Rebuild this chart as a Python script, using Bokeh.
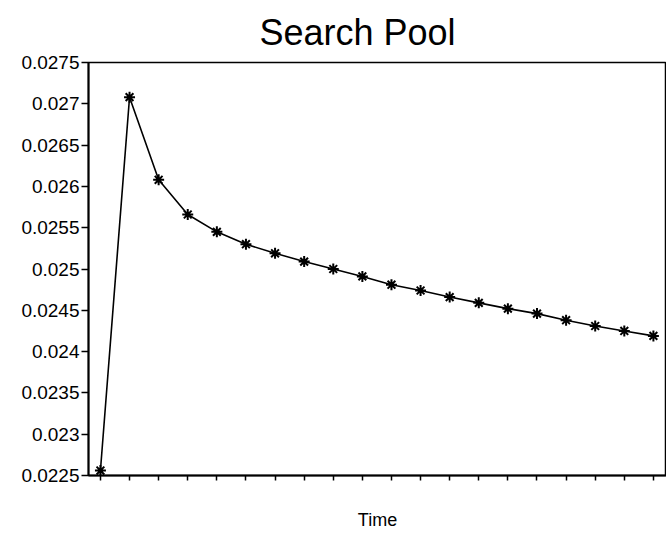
from bokeh.plotting import figure
from bokeh.models import Range1d, FixedTicker, CustomJSTickFormatter
from bokeh.embed import file_html
from bokeh.resources import INLINE

time_idx = list(range(20))
pool = [0.02256, 0.02708, 0.02608, 0.02566, 0.02545, 0.02530, 0.02519, 0.02509,
        0.02500, 0.02491, 0.02481, 0.02474, 0.02466, 0.02459, 0.02452, 0.02446,
        0.02438, 0.02431, 0.02425, 0.02419]
y_ticks = [0.0225, 0.023, 0.0235, 0.024, 0.0245, 0.025, 0.0255, 0.026, 0.0265, 0.027, 0.0275]

FONT = "Liberation Sans"

p = figure(width=666, height=532, output_backend="svg", toolbar_location=None,
           x_range=Range1d(-0.41, 19.45), y_range=Range1d(0.0225, 0.0275),
           min_border_left=88, min_border_right=0, min_border_top=62, min_border_bottom=0)
p.title.text = "Search Pool"
p.title.text_font = FONT
p.title.text_font_size = "36px"
p.title.text_font_style = "normal"
p.title.text_color = "black"
p.title.align = "left"
p.title.offset = 171
p.title.standoff = 19

p.grid.visible = False
p.outline_line_color = "black"
p.outline_line_width = 1.5

p.line(time_idx, pool, line_color="black", line_width=1.6)
p.scatter(time_idx, pool, marker="asterisk", size=11, line_color="black", line_width=2)

xa = p.xaxis[0]
xa.ticker = FixedTicker(ticks=time_idx)
xa.formatter = CustomJSTickFormatter(code="return '';")
xa.major_tick_in = 0
xa.major_tick_out = 5
xa.major_tick_line_width = 1.5
xa.minor_tick_line_color = None
xa.axis_line_width = 2
xa.axis_label = "Time"
xa.axis_label_text_font = FONT
xa.axis_label_text_font_size = "18px"
xa.axis_label_text_font_style = "normal"
xa.axis_label_text_color = "black"
xa.axis_label_standoff = 29

ya = p.yaxis[0]
ya.ticker = FixedTicker(ticks=y_ticks)
ya.formatter = CustomJSTickFormatter(code="return tick.toFixed(4).replace(/0+$/, '');")
ya.major_tick_in = 0
ya.major_tick_out = 7
ya.major_tick_line_width = 1.5
ya.minor_tick_line_color = None
ya.axis_line_width = 2
ya.major_label_text_font = FONT
ya.major_label_text_font_size = "19px"
ya.major_label_text_color = "black"
ya.major_label_standoff = 2

open("out.html", "w").write(file_html(p, INLINE))
